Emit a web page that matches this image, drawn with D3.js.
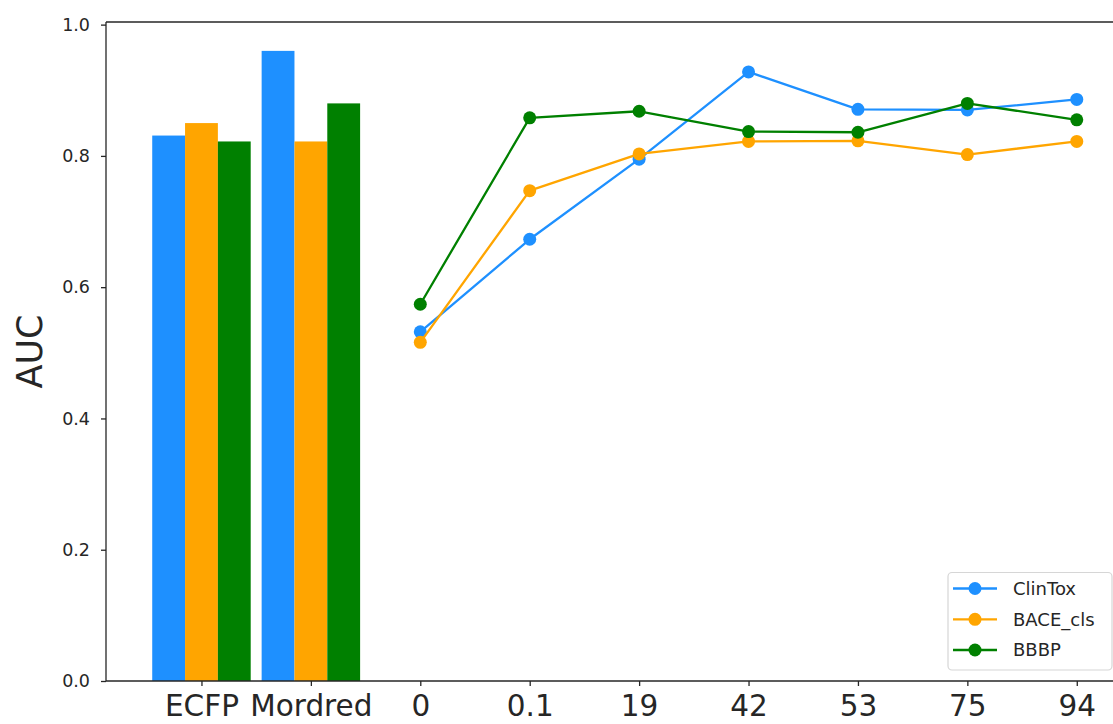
<!DOCTYPE html>
<html>
<head>
<meta charset="utf-8">
<script src="https://cdn.jsdelivr.net/npm/d3@7"></script>
<style>
  html, body { margin: 0; padding: 0; background: #fff; }
  svg { display: block; }
  text { font-family: "DejaVu Sans", sans-serif; fill: #262626; }
</style>
</head>
<body>
<svg id="chart" width="1113" height="724"></svg>
<script>
// ---- data ----
const tickLabels = ["ECFP", "Mordred", "0", "0.1", "19", "42", "53", "75", "94"];
const barCategories = ["ECFP", "Mordred"];
const lineCategories = ["0", "0.1", "19", "42", "53", "75", "94"];
const seriesNames = ["ClinTox", "BACE_cls", "BBBP"];
const seriesColors = ["#1E90FF", "#FFA500", "#008000"];
const barClinTox = [0.831, 0.960];
const barBACE = [0.850, 0.822];
const barBBBP = [0.822, 0.880];
const lineClinTox = [0.532, 0.673, 0.795, 0.928, 0.871, 0.870, 0.886];
const lineBACE = [0.516, 0.747, 0.803, 0.822, 0.823, 0.802, 0.822];
const lineBBBP = [0.574, 0.858, 0.868, 0.837, 0.836, 0.880, 0.855];
const yTicks = [0.0, 0.2, 0.4, 0.6, 0.8, 1.0];

const barSeries = [barClinTox, barBACE, barBBBP];
const lineSeries = [lineClinTox, lineBACE, lineBBBP];

// ---- layout ----
const svg = d3.select("#chart");
const mLeft = 106, mRight = 1123, mTop = 22, mBottom = 681;
const barWidth = 0.3;

const x = d3.scaleLinear().domain([-0.8725, 8.4225]).range([mLeft, mRight]);
const y = d3.scaleLinear().domain([0, 1.004]).range([mBottom, mTop]);
const idx = name => tickLabels.indexOf(name);

const plot = svg.append("g");

// bars
barSeries.forEach((vals, s) => {
  plot.selectAll(null)
    .data(vals.map((v, i) => ({ cat: barCategories[i], v })))
    .enter().append("rect")
    .attr("x", d => x(idx(d.cat) + (s - 1) * barWidth - barWidth / 2))
    .attr("width", d => x(barWidth) - x(0))
    .attr("y", d => y(d.v))
    .attr("height", d => y(0) - y(d.v))
    .attr("fill", seriesColors[s]);
});

// lines
const line = d3.line().x(d => x(idx(d.cat))).y(d => y(d.v));
lineSeries.forEach((vals, s) => {
  const pts = vals.map((v, i) => ({ cat: lineCategories[i], v }));
  plot.append("path").datum(pts)
    .attr("d", line)
    .attr("fill", "none")
    .attr("stroke", seriesColors[s])
    .attr("stroke-width", 2.3)
    .attr("stroke-linejoin", "round");
  plot.selectAll(null).data(pts).enter().append("circle")
    .attr("cx", d => x(idx(d.cat)))
    .attr("cy", d => y(d.v))
    .attr("r", 6.5)
    .attr("fill", seriesColors[s]);
});

// axes
const xAxis = d3.axisBottom(x)
  .tickValues(d3.range(tickLabels.length))
  .tickFormat(i => tickLabels[i])
  .tickSize(5).tickPadding(9);
const gx = svg.append("g").attr("transform", `translate(0,${mBottom})`).call(xAxis);
gx.selectAll("text").attr("font-size", 29.5).style("font-family", "DejaVu Sans").attr("fill", "#1a1a1a");

const yAxis = d3.axisLeft(y).tickValues(yTicks).tickFormat(d3.format(".1f"))
  .tickSize(5).tickPadding(11);
const gy = svg.append("g").attr("transform", `translate(${mLeft},0)`).call(yAxis);
gy.selectAll("text").attr("font-size", 17.5).style("font-family", "DejaVu Sans").attr("fill", "#262626");

[gx, gy].forEach(g => {
  g.select(".domain").remove();
  g.selectAll(".tick line").attr("stroke", "#262626").attr("stroke-width", 1.3);
});

// spines
const spines = svg.append("g").attr("stroke", "#262626").attr("stroke-width", 1.3).attr("fill", "none");
spines.append("line").attr("x1", mLeft).attr("x2", mLeft).attr("y1", mTop).attr("y2", mBottom);
spines.append("line").attr("x1", mLeft).attr("x2", mRight).attr("y1", mBottom).attr("y2", mBottom);
spines.append("line").attr("x1", mLeft).attr("x2", mRight).attr("y1", mTop).attr("y2", mTop);
spines.append("line").attr("x1", mRight).attr("x2", mRight).attr("y1", mTop).attr("y2", mBottom);

// y label
svg.append("text")
  .attr("transform", `translate(42,${(mTop + mBottom) / 2}) rotate(-90)`)
  .attr("text-anchor", "middle")
  .attr("font-size", 35)
  .attr("fill", "#1a1a1a")
  .text("AUC");

// legend
const lg = svg.append("g");
lg.append("rect")
  .attr("x", 948).attr("y", 572.5).attr("width", 164).attr("height", 97.5)
  .attr("rx", 4).attr("ry", 4)
  .attr("fill", "#fff").attr("fill-opacity", 0.8)
  .attr("stroke", "#d6d6d6").attr("stroke-width", 1.2);
const rowY = [588.5, 619.3, 650];
seriesNames.forEach((name, s) => {
  const g = lg.append("g").attr("transform", `translate(0,${rowY[s]})`);
  g.append("line").attr("x1", 953).attr("x2", 997).attr("y1", 0).attr("y2", 0)
    .attr("stroke", seriesColors[s]).attr("stroke-width", 2.3);
  g.append("circle").attr("cx", 975).attr("cy", 0).attr("r", 6.5).attr("fill", seriesColors[s]);
  g.append("text").attr("x", 1013).attr("y", 0).attr("dy", "0.36em")
    .attr("font-size", 18).attr("fill", "#262626").text(name);
});
</script>
</body>
</html>
